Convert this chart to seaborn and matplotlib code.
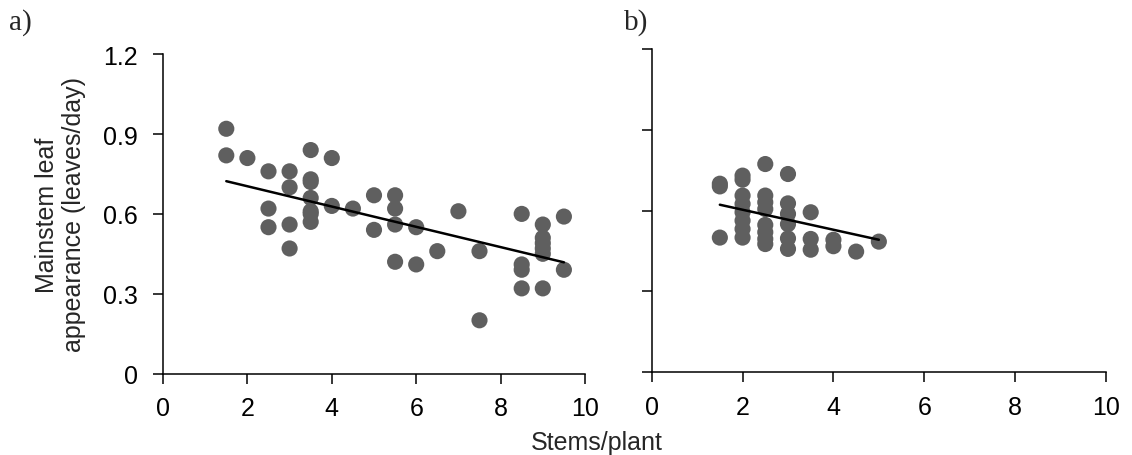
import numpy as np
import pandas as pd
import matplotlib
matplotlib.use("Agg")
import matplotlib.pyplot as plt
import seaborn as sns

# Panel a data
a_x = [1.5, 1.5, 2.0, 2.5, 2.5, 2.5, 3.0, 3.0, 3.0, 3.0,
       3.5, 3.5, 3.5, 3.5, 3.5, 3.5, 3.5, 4.0, 4.0, 4.5,
       5.0, 5.0, 5.5, 5.5, 5.5, 5.5, 6.0, 6.0, 6.5, 7.0,
       7.5, 7.5, 8.5, 8.5, 8.5, 8.5, 9.0, 9.0, 9.0, 9.0,
       9.0, 9.0, 9.5, 9.5]
a_y = [0.92, 0.82, 0.81, 0.76, 0.62, 0.55, 0.76, 0.70, 0.56, 0.47,
       0.84, 0.73, 0.72, 0.66, 0.61, 0.60, 0.57, 0.81, 0.63, 0.62,
       0.67, 0.54, 0.67, 0.62, 0.56, 0.42, 0.55, 0.41, 0.46, 0.61,
       0.46, 0.20, 0.60, 0.41, 0.39, 0.32, 0.56, 0.51, 0.49, 0.47,
       0.45, 0.32, 0.59, 0.39]
a_trend_x = [1.5, 9.5]
a_trend_y = [0.723, 0.418]

# Panel b data
b_x = [1.5, 1.5, 1.5,
       2.0, 2.0, 2.0, 2.0, 2.0, 2.0, 2.0, 2.0,
       2.5, 2.5, 2.5, 2.5, 2.5, 2.5, 2.5, 2.5,
       3.0, 3.0, 3.0, 3.0, 3.0, 3.0,
       3.5, 3.5, 3.5,
       4.0, 4.0,
       4.5,
       5.0]
b_y = [0.70, 0.69, 0.50,
       0.73, 0.715, 0.656, 0.625, 0.594, 0.563, 0.532, 0.50,
       0.773, 0.656, 0.631, 0.606, 0.547, 0.52, 0.495, 0.476,
       0.736, 0.627, 0.588, 0.55, 0.497, 0.458,
       0.594, 0.495, 0.455,
       0.492, 0.468,
       0.448,
       0.485]
b_trend_x = [1.5, 5.0]
b_trend_y = [0.622, 0.492]

x_ticks = [0, 2, 4, 6, 8, 10]
y_ticks = [0, 0.3, 0.6, 0.9, 1.2]
y_tick_labels = ["0", "0.3", "0.6", "0.9", "1.2"]

sns.set_style("ticks")
plt.rcParams['font.family'] = ['Liberation Sans', 'DejaVu Sans']

W, H = 1132, 456
fig = plt.figure(figsize=(W / 100, H / 100), dpi=100)
ax_a = fig.add_axes([163 / W, 1 - 374.5 / H, (585 - 163) / W, (374.5 - 55.3) / H])
ax_b = fig.add_axes([651.7 / W, 1 - 373.3 / H, (1106 - 651.7) / W, (373.3 - 50) / H])

dot = "#5f5f5f"
fs = 18
for ax, xs, ys, tx, ty in [(ax_a, a_x, a_y, a_trend_x, a_trend_y),
                           (ax_b, b_x, b_y, b_trend_x, b_trend_y)]:
    df = pd.DataFrame({"x": xs, "y": ys})
    sns.scatterplot(data=df, x="x", y="y", ax=ax, color=dot, s=135,
                    edgecolor="none", zorder=2, clip_on=False)
    tdf = pd.DataFrame({"x": tx, "y": ty})
    sns.lineplot(data=tdf, x="x", y="y", ax=ax, color="black", lw=1.8,
                 zorder=3)
    ax.set_xlim(0, 10)
    ax.set_ylim(0, 1.2)
    ax.set_xticks(x_ticks)
    ax.set_yticks(y_ticks)
    ax.set_xlabel("")
    ax.set_ylabel("")
    for s in ["top", "right"]:
        ax.spines[s].set_visible(False)
    for s in ["left", "bottom"]:
        ax.spines[s].set_linewidth(1.1)
        ax.spines[s].set_color("black")
    ax.tick_params(axis="both", direction="out", length=7, width=1.1,
                   colors="black", labelsize=fs)
    ax.tick_params(axis="x", pad=9)
    ax.tick_params(axis="y", pad=11)

ax_a.set_yticklabels(y_tick_labels)
ax_b.set_yticklabels([])
ax_a.set_ylabel("Mainstem leaf\nappearance (leaves/day)", fontsize=fs,
                linespacing=1.2, labelpad=12)

fig.text(597 / W, 1 - 450 / H, "Stems/plant", ha="center", va="baseline",
         fontsize=fs)
fig.text(9 / W, 1 - 30 / H, "a)", ha="left", va="baseline", fontsize=21,
         family=["Liberation Serif", "DejaVu Serif"])
fig.text(624 / W, 1 - 30 / H, "b)", ha="left", va="baseline", fontsize=21,
         family=["Liberation Serif", "DejaVu Serif"])

fig.savefig("out.png", dpi=100)
